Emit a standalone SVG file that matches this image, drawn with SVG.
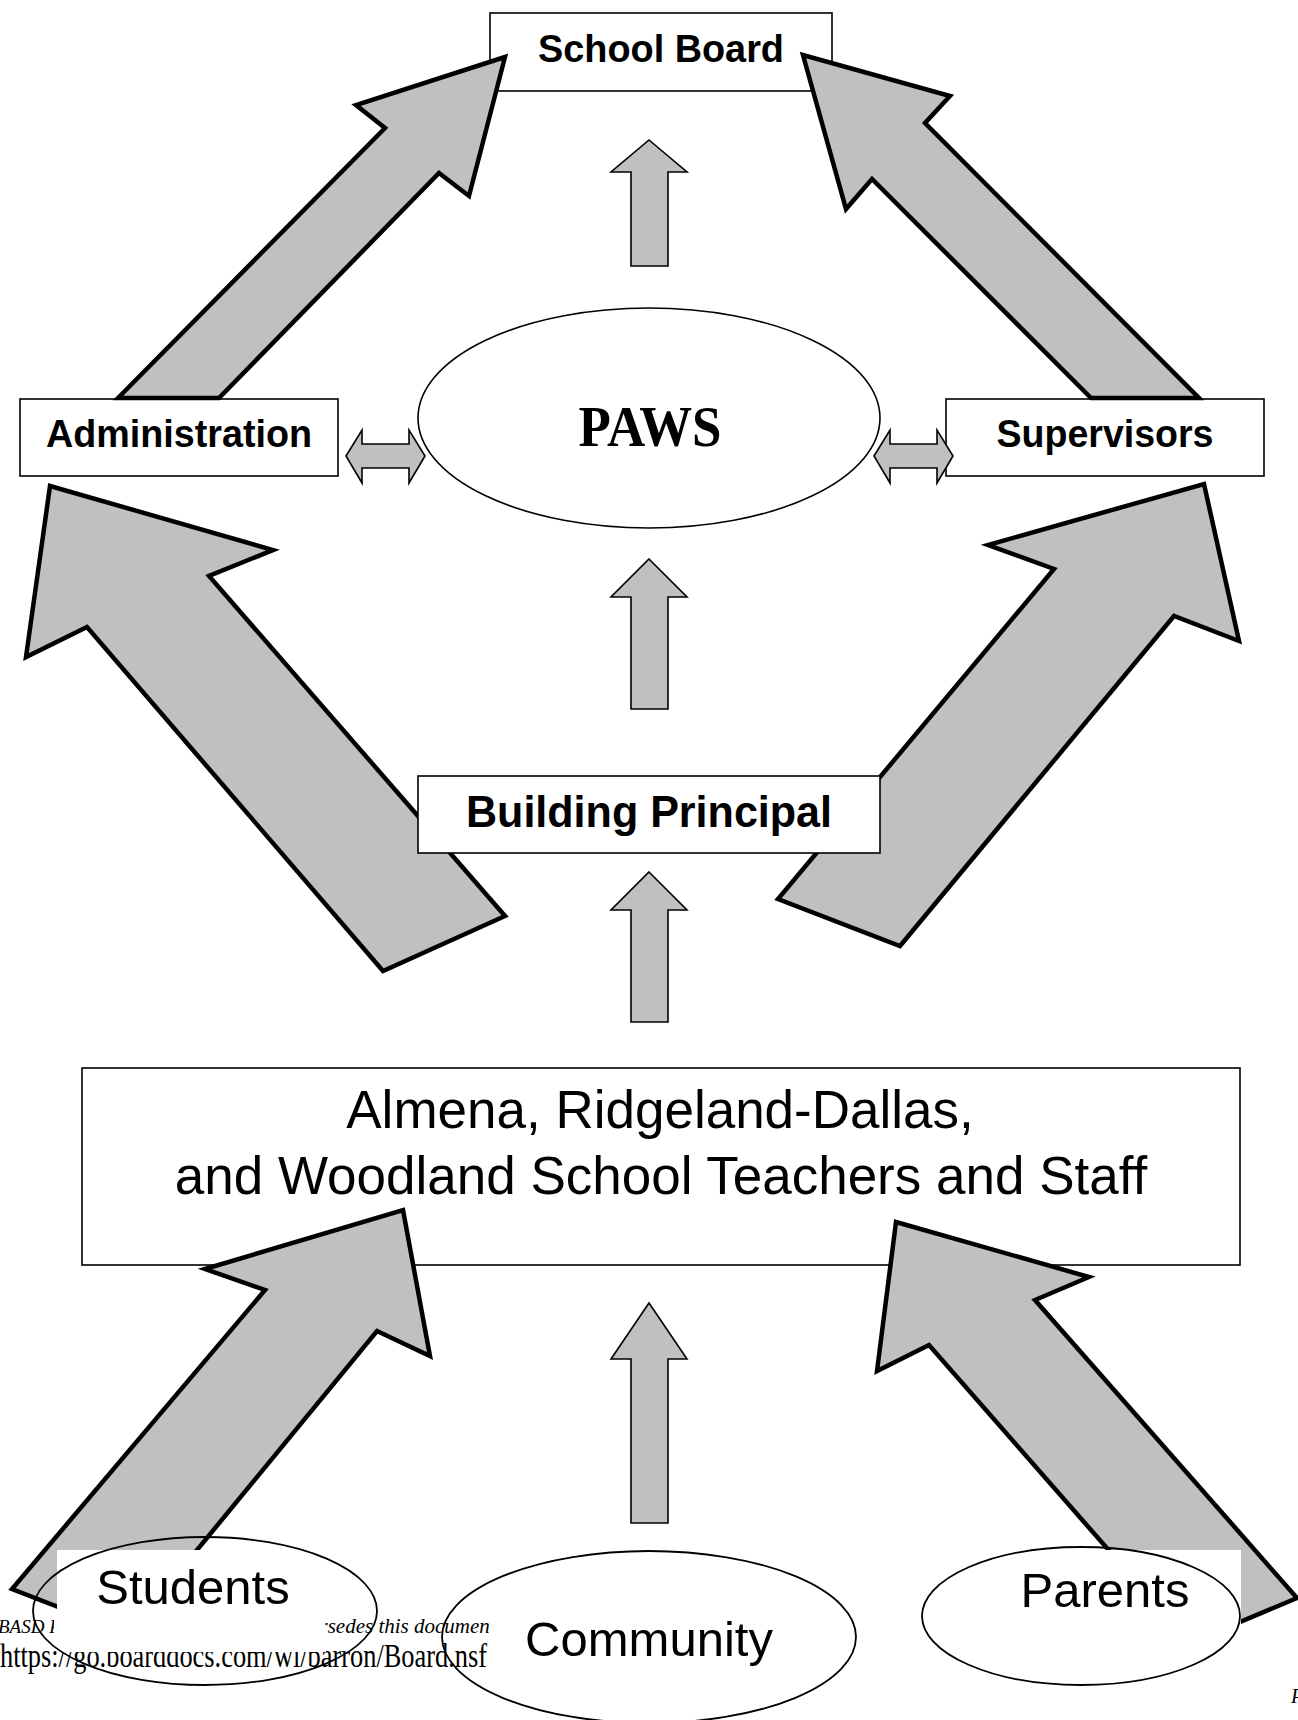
<svg xmlns="http://www.w3.org/2000/svg" width="1298" height="1720" viewBox="0 0 1298 1720">
<style>
.box{fill:#fff;stroke:#000;stroke-width:1.6}
.ell{fill:#fff;stroke:#000;stroke-width:1.6}
.ello{fill:none;stroke:#000;stroke-width:1.8}
.big{fill:#c0c0c0;stroke:#000;stroke-width:4.5;stroke-linejoin:miter;stroke-miterlimit:10}
.small{fill:#c0c0c0;stroke:#000;stroke-width:1.6;stroke-linejoin:miter}
.bl{font-family:"Liberation Sans",Arial,sans-serif;font-weight:bold;fill:#000;text-anchor:middle}
.rl{font-family:"Liberation Sans",Arial,sans-serif;fill:#000;text-anchor:middle}
.foot{font-family:"Liberation Serif","Times New Roman",serif;fill:#000}
</style>
<defs>
<clipPath id="c1a"><rect x="-20" y="1600" width="74" height="45"/></clipPath>
<clipPath id="c1b"><rect x="325" y="1600" width="164" height="45"/></clipPath>
<clipPath id="c2"><rect x="-20" y="1635" width="77" height="50"/><rect x="57" y="1652" width="269" height="33"/><rect x="326" y="1635" width="163" height="50"/></clipPath>
</defs>

<g id="school-board">
<rect class="box" x="490" y="13" width="342" height="78"/>
<text class="bl" x="661" y="62" font-size="38" textLength="246" lengthAdjust="spacingAndGlyphs">School Board</text>
</g>

<g id="teachers-staff">
<rect class="box" x="82" y="1068" width="1158" height="197"/>
<text class="rl" x="660" y="1128" font-size="53">Almena, Ridgeland-Dallas,</text>
<text class="rl" x="661" y="1194" font-size="53">and Woodland School Teachers and Staff</text>
</g>

<g id="paws">
<ellipse class="ell" cx="649" cy="418" rx="231" ry="110"/>
<text x="650" y="446" font-family="'Liberation Serif','Times New Roman',serif" font-weight="bold" font-size="56" text-anchor="middle" textLength="143" lengthAdjust="spacingAndGlyphs">PAWS</text>
</g>

<g id="administration">
<rect class="box" x="20" y="399" width="318" height="77"/>
<text class="bl" x="179" y="447" font-size="38" textLength="266" lengthAdjust="spacingAndGlyphs">Administration</text>
</g>

<g id="supervisors">
<rect class="box" x="946" y="399" width="318" height="77"/>
<text class="bl" x="1105" y="447" font-size="38" textLength="217" lengthAdjust="spacingAndGlyphs">Supervisors</text>
</g>

<g id="connectors">
<polygon class="big" stroke-width="4" points="118,398 385,128 356,105 505,57 469,196 439,173 219,398"/>
<polygon class="big" stroke-width="4" points="1091,398 872,179 846,209 803,55 950,96 925,123 1199,398"/>
<polygon class="small" points="649,140 687,172 668,172 668,266 631,266 631,172 611,172"/>
<polygon class="small" points="649,559 687,597 668,597 668,709 631,709 631,597 611,597"/>
<polygon class="small" points="649,872 687,910 668,910 668,1022 631,1022 631,910 611,910"/>
<polygon class="small" points="649,1303 687,1359 668,1359 668,1523 631,1523 631,1359 611,1359"/>
<polygon class="small" stroke-width="1.4" points="346,456 362,430 362,444 409,444 409,430 425,456 409,483 409,468 362,468 362,483"/>
<polygon class="small" stroke-width="1.4" points="874,456 890,430 890,444 937,444 937,430 953,456 937,483 937,468 890,468 890,483"/>
<polygon class="big" points="50,486 273,550 209,576 505,916 383,971 87,627 26,657"/>
<polygon class="big" points="1204,484 1239,641 1174,616 900,946 778,899 1054,569 988,545"/>
<polygon class="big" points="403,1210 430,1356 377,1331 128,1634 12,1589 265,1290 205,1269"/>
<polygon class="big" points="896,1222 1089,1277 1035,1300 1297,1598 1190,1643 929,1345 877,1371"/>
</g>

<g id="building-principal">
<rect class="box" x="418" y="776" width="462" height="77"/>
<text class="bl" x="649" y="827" font-size="45" textLength="366" lengthAdjust="spacingAndGlyphs">Building Principal</text>
</g>

<rect x="57" y="1550" width="1184" height="170" fill="#fff"/>

<g id="footer">
<text class="foot" x="-2" y="1633" font-size="19" font-style="italic" clip-path="url(#c1a)">BASD P</text>
<text class="foot" x="281" y="1633" font-size="21" font-style="italic" clip-path="url(#c1b)">supersedes this document</text>
<text class="foot" x="0" y="1667" font-size="33" textLength="487" lengthAdjust="spacingAndGlyphs" clip-path="url(#c2)">https://go.boarddocs.com/wi/barron/Board.nsf</text>
<text class="foot" x="1291" y="1703" font-size="20" font-style="italic">P</text>
</g>

<g id="students">
<ellipse class="ello" cx="205" cy="1611" rx="172" ry="74"/>
<text class="rl" x="193" y="1604" font-size="49">Students</text>
</g>

<g id="community">
<ellipse class="ello" cx="649" cy="1637" rx="207" ry="86"/>
<text class="rl" x="649" y="1656" font-size="49">Community</text>
</g>

<g id="parents">
<ellipse class="ello" cx="1081" cy="1616" rx="159" ry="69"/>
<text class="rl" x="1105" y="1607" font-size="49">Parents</text>
</g>
</svg>
